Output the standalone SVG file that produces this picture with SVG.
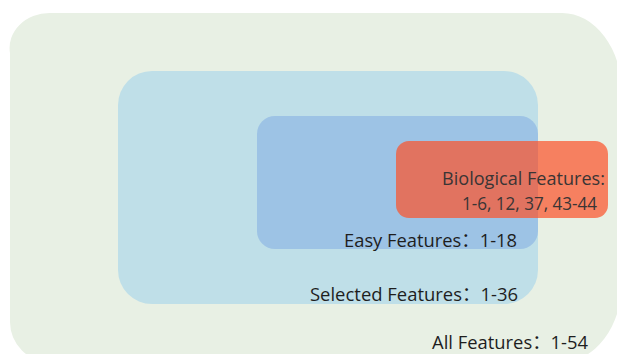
<svg xmlns="http://www.w3.org/2000/svg" width="617" height="354" viewBox="0 0 617 354">
  <style>
    .lbl { font-family: "Open Sans", "Noto Sans CJK SC", sans-serif; font-size: 19px; fill: #1e1e1e; }
    .bio { fill: #3a3535; }
  </style>
  <rect x="0" y="0" width="617" height="354" fill="#ffffff"/>
  <g id="all-features">
    <path d="M50,13 H562 A60,80 0 0 1 622,93 V282 A60,80 0 0 1 562,362 H50 A40,40 0 0 1 10,322 V53 A40,35 0 0 1 50,13 Z" fill="#e8f0e4"/>
    <text class="lbl" x="432" y="349" textLength="156" lengthAdjust="spacingAndGlyphs">All Features：1-54</text>
  </g>
  <g id="selected-features">
    <rect x="118" y="71" width="420" height="233" rx="34" ry="34" fill="#bfdfe8"/>
    <text class="lbl" x="310" y="301" textLength="208" lengthAdjust="spacingAndGlyphs">Selected Features：1-36</text>
  </g>
  <g id="easy-features">
    <rect x="257" y="116" width="281" height="133" rx="18" ry="18" fill="#9dc3e5"/>
    <text class="lbl" x="344" y="247" textLength="173" lengthAdjust="spacingAndGlyphs">Easy Features：1-18</text>
  </g>
  <g id="biological-features">
    <rect x="396" y="141" width="212" height="77" rx="13" ry="13" fill="#fb542d" fill-opacity="0.72"/>
    <text class="lbl bio" x="442" y="185" textLength="163" lengthAdjust="spacingAndGlyphs">Biological Features:</text>
    <text class="lbl bio" x="462" y="210" textLength="135" lengthAdjust="spacingAndGlyphs">1-6, 12, 37, 43-44</text>
  </g>
  <g id="connectors"/>
</svg>
